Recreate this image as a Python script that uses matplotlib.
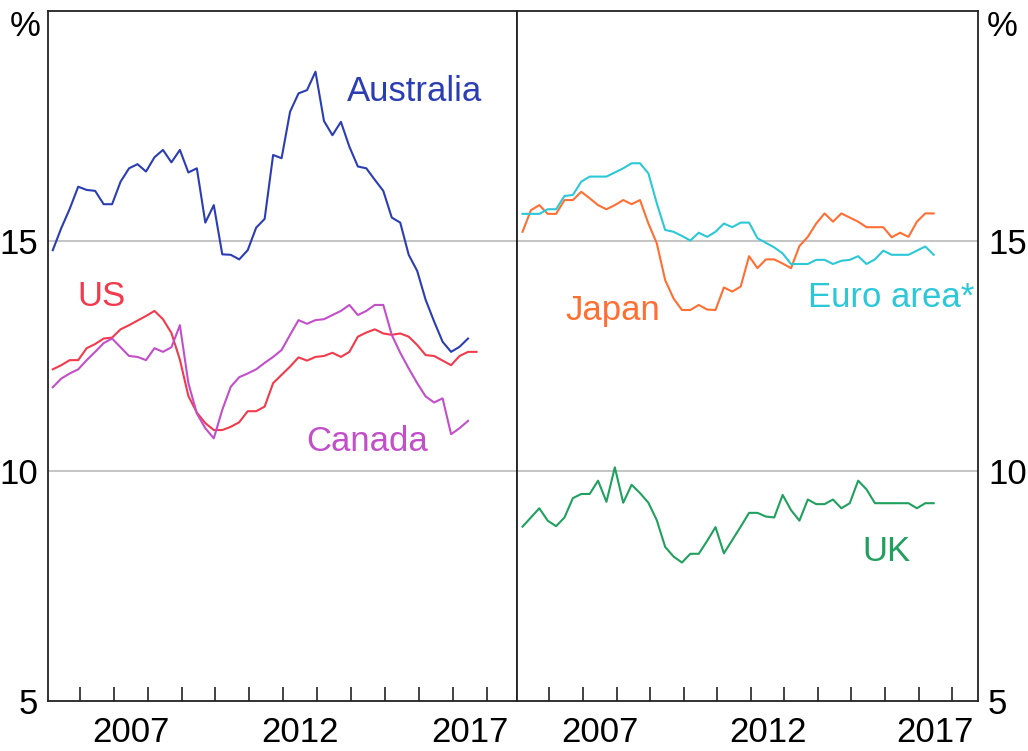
import numpy as np
import matplotlib
matplotlib.use("Agg")
import matplotlib.pyplot as plt
from matplotlib.ticker import FixedLocator, NullFormatter

plt.rcParams['font.family'] = ['Liberation Sans', 'DejaVu Sans']

# ---- data (quarterly, Q1 2005 onwards), per cent ----
australia = [14.80, 15.28, 15.70, 16.18, 16.11, 16.09, 15.80, 15.80, 16.29, 16.58,
             16.67, 16.51, 16.82, 16.98, 16.71, 16.98, 16.49, 16.58, 15.40, 15.78,
             14.71, 14.70, 14.60, 14.80, 15.29, 15.48, 16.87, 16.80, 17.81, 18.21,
             18.28, 18.68, 17.61, 17.30, 17.59, 17.05, 16.62, 16.58, 16.33, 16.09,
             15.51, 15.40, 14.70, 14.35, 13.72, 13.25, 12.81, 12.59, 12.70, 12.88]
us = [12.21, 12.30, 12.41, 12.41, 12.67, 12.76, 12.88, 12.90, 13.08, 13.17,
      13.27, 13.37, 13.48, 13.30, 13.00, 12.42, 11.63, 11.27, 11.04, 10.89,
      10.89, 10.96, 11.06, 11.30, 11.30, 11.40, 11.91, 12.09, 12.27, 12.47,
      12.40, 12.48, 12.50, 12.57, 12.48, 12.59, 12.92, 13.01, 13.08, 12.99,
      12.96, 12.99, 12.92, 12.74, 12.52, 12.50, 12.40, 12.30, 12.50, 12.59, 12.59]
canada = [11.82, 12.01, 12.12, 12.21, 12.41, 12.59, 12.78, 12.88, 12.69, 12.50,
          12.48, 12.41, 12.67, 12.59, 12.69, 13.17, 11.91, 11.25, 10.93, 10.71,
          11.33, 11.83, 12.04, 12.12, 12.21, 12.35, 12.48, 12.63, 12.96, 13.28,
          13.20, 13.28, 13.30, 13.39, 13.48, 13.61, 13.39, 13.48, 13.61, 13.61,
          12.96, 12.57, 12.23, 11.91, 11.62, 11.49, 11.58, 10.80, 10.93, 11.09]
japan = [15.20, 15.67, 15.78, 15.59, 15.59, 15.89, 15.89, 16.07, 15.93, 15.78,
         15.69, 15.78, 15.89, 15.80, 15.89, 15.38, 14.95, 14.15, 13.75, 13.50,
         13.50, 13.61, 13.51, 13.50, 13.99, 13.90, 14.01, 14.67, 14.41, 14.60,
         14.60, 14.51, 14.41, 14.89, 15.09, 15.38, 15.60, 15.42, 15.60, 15.51,
         15.42, 15.30, 15.30, 15.30, 15.08, 15.18, 15.09, 15.42, 15.60, 15.60]
euro_area = [15.59, 15.59, 15.59, 15.69, 15.69, 15.98, 16.00, 16.29, 16.40, 16.40,
             16.40, 16.49, 16.58, 16.69, 16.69, 16.47, 15.82, 15.24, 15.20, 15.11,
             15.01, 15.18, 15.09, 15.20, 15.38, 15.30, 15.40, 15.40, 15.06, 14.96,
             14.86, 14.73, 14.50, 14.50, 14.50, 14.59, 14.59, 14.50, 14.57, 14.59,
             14.67, 14.50, 14.60, 14.79, 14.70, 14.70, 14.70, 14.79, 14.88, 14.70]
uk = [8.79, 8.99, 9.19, 8.92, 8.80, 8.99, 9.41, 9.50, 9.50, 9.79,
      9.33, 10.08, 9.31, 9.70, 9.52, 9.31, 8.93, 8.35, 8.14, 8.01,
      8.20, 8.20, 8.48, 8.78, 8.21, 8.50, 8.79, 9.09, 9.09, 9.01,
      8.99, 9.48, 9.15, 8.92, 9.38, 9.28, 9.28, 9.38, 9.19, 9.30,
      9.79, 9.60, 9.30, 9.30, 9.30, 9.30, 9.30, 9.19, 9.30, 9.30]

start_year = 2005
year_ticks = list(range(2006, 2019))
year_labels = ['2007', '2012', '2017']
y_ticks = [5, 10, 15]
y_labels = ['5', '10', '15']

def qpos(n):
    return start_year + 0.2 + 0.25 * np.arange(n)

colors = {
    'Australia': '#2B3DB3',
    'US': '#F23A4C',
    'Canada': '#C24FC9',
    'Japan': '#FF6F33',
    'Euro area*': '#2CC8D8',
    'UK': '#20A05E',
}

W, H = 1028, 751
fig = plt.figure(figsize=(W / 100, H / 100), dpi=100)
bottom = 50 / H
height = 690 / H
axL = fig.add_axes([47.7 / W, bottom, (516.5 - 47.7) / W, height])
axR = fig.add_axes([516.5 / W, bottom, (978.3 - 516.5) / W, height])

fs = 25
lw = 1.5
for ax, xl in ((axL, (2005.05, 2018.88)), (axR, (2005.02, 2018.78))):
    ax.set_xlim(*xl)
    ax.set_ylim(5, 20)
    for g in (10, 15):
        ax.axhline(g, color='#b4b4b4', lw=1.1, zorder=1)
    for s in ax.spines.values():
        s.set_linewidth(1.3)
        s.set_color('#222222')
    ax.xaxis.set_minor_locator(FixedLocator(year_ticks))
    ax.xaxis.set_minor_formatter(NullFormatter())
    ax.set_xticks([int(l) + 0.5 for l in year_labels])
    ax.set_xticklabels(year_labels, fontsize=fs)
    ax.tick_params(axis='x', which='major', length=0, pad=11)
    ax.tick_params(axis='x', which='minor', direction='in', length=10, width=1.2, color='#222222')
    ax.set_yticks(y_ticks)
    ax.set_yticklabels(y_labels, fontsize=fs)
    ax.tick_params(axis='y', length=0, pad=7)

axR.yaxis.tick_right()

axL.plot(qpos(len(australia)), australia, color=colors['Australia'], lw=lw, zorder=3)
axL.plot(qpos(len(us)), us, color=colors['US'], lw=lw, zorder=3)
axL.plot(qpos(len(canada)), canada, color=colors['Canada'], lw=lw, zorder=3)
axR.plot(qpos(len(japan)), japan, color=colors['Japan'], lw=lw, zorder=3)
axR.plot(qpos(len(euro_area)), euro_area, color=colors['Euro area*'], lw=lw, zorder=3)
axR.plot(qpos(len(uk)), uk, color=colors['UK'], lw=lw, zorder=3)

def label(ax, x, y, s):
    ax.text(x, y, s, color=colors[s], fontsize=fs, ha='center', va='center')

label(axL, 2015.86, 18.24, 'Australia')
label(axL, 2006.65, 13.80, 'US')
label(axL, 2014.47, 10.65, 'Canada')
label(axR, 2007.9, 13.48, 'Japan')
label(axR, 2016.18, 13.78, 'Euro area*')
label(axR, 2016.04, 8.26, 'UK')

fig.text(25.5 / W, 1 - 27 / H, '%', fontsize=fs, ha='center', va='center')
fig.text(1002 / W, 1 - 27 / H, '%', fontsize=fs, ha='center', va='center')

fig.savefig('out.png', dpi=100)
